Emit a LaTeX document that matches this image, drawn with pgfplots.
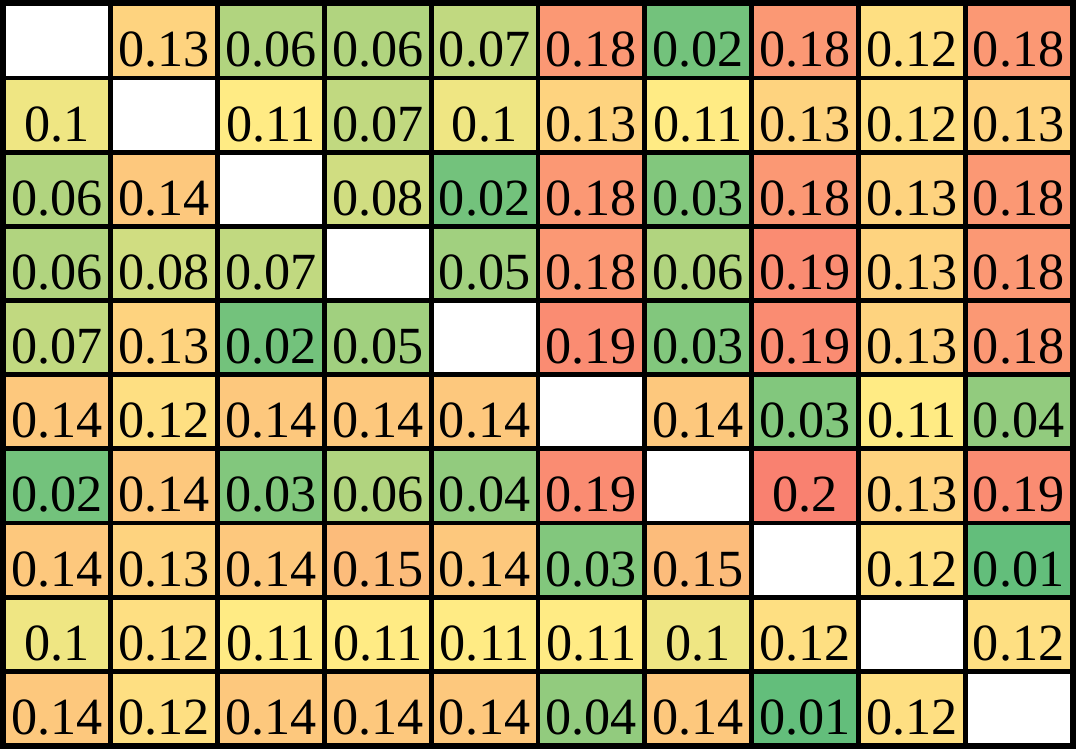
\documentclass[border=0pt]{standalone}
\usepackage{pgfplots}
\pgfplotsset{compat=1.18}
\usepackage{fontspec}
\setmainfont{Liberation Serif}
\newfontfamily\tnr{Liberation Serif}
\begin{document}
\begin{tikzpicture}
\begin{axis}[
  scale only axis, width=538pt, height=373.5pt,
  xmin=-0.5, xmax=9.5, ymin=-0.5, ymax=9.5,
  y dir=reverse,
  axis lines=box, ticks=none,
  axis line style={line width=4pt, black},
  colormap={heat}{rgb255(100)=(99,190,123) rgb255(1100)=(255,235,132) rgb255(2200)=(248,105,107) rgb255(2250)=(255,255,255) rgb255(3000)=(255,255,255)},
  point meta min=0.01, point meta max=0.30,
]
\addplot[matrix plot*, mesh/cols=10, point meta=explicit, draw=black, line width=2.4pt,
  visualization depends on={value \thisrow{lbl} \as \lbl},
  nodes near coords={\lbl},
  every node near coord/.append style={anchor=center, yshift=-4.5pt, font=\tnr\fontsize{26.3}{30}\selectfont, text=black}]
table[meta=v] {
x y v lbl
0 0 0.30 {}
1 0 0.13 0.13
2 0 0.06 0.06
3 0 0.06 0.06
4 0 0.07 0.07
5 0 0.18 0.18
6 0 0.02 0.02
7 0 0.18 0.18
8 0 0.12 0.12
9 0 0.18 0.18
0 1 0.10 0.1
1 1 0.30 {}
2 1 0.11 0.11
3 1 0.07 0.07
4 1 0.10 0.1
5 1 0.13 0.13
6 1 0.11 0.11
7 1 0.13 0.13
8 1 0.12 0.12
9 1 0.13 0.13
0 2 0.06 0.06
1 2 0.14 0.14
2 2 0.30 {}
3 2 0.08 0.08
4 2 0.02 0.02
5 2 0.18 0.18
6 2 0.03 0.03
7 2 0.18 0.18
8 2 0.13 0.13
9 2 0.18 0.18
0 3 0.06 0.06
1 3 0.08 0.08
2 3 0.07 0.07
3 3 0.30 {}
4 3 0.05 0.05
5 3 0.18 0.18
6 3 0.06 0.06
7 3 0.19 0.19
8 3 0.13 0.13
9 3 0.18 0.18
0 4 0.07 0.07
1 4 0.13 0.13
2 4 0.02 0.02
3 4 0.05 0.05
4 4 0.30 {}
5 4 0.19 0.19
6 4 0.03 0.03
7 4 0.19 0.19
8 4 0.13 0.13
9 4 0.18 0.18
0 5 0.14 0.14
1 5 0.12 0.12
2 5 0.14 0.14
3 5 0.14 0.14
4 5 0.14 0.14
5 5 0.30 {}
6 5 0.14 0.14
7 5 0.03 0.03
8 5 0.11 0.11
9 5 0.04 0.04
0 6 0.02 0.02
1 6 0.14 0.14
2 6 0.03 0.03
3 6 0.06 0.06
4 6 0.04 0.04
5 6 0.19 0.19
6 6 0.30 {}
7 6 0.20 0.2
8 6 0.13 0.13
9 6 0.19 0.19
0 7 0.14 0.14
1 7 0.13 0.13
2 7 0.14 0.14
3 7 0.15 0.15
4 7 0.14 0.14
5 7 0.03 0.03
6 7 0.15 0.15
7 7 0.30 {}
8 7 0.12 0.12
9 7 0.01 0.01
0 8 0.10 0.1
1 8 0.12 0.12
2 8 0.11 0.11
3 8 0.11 0.11
4 8 0.11 0.11
5 8 0.11 0.11
6 8 0.10 0.1
7 8 0.12 0.12
8 8 0.30 {}
9 8 0.12 0.12
0 9 0.14 0.14
1 9 0.12 0.12
2 9 0.14 0.14
3 9 0.14 0.14
4 9 0.14 0.14
5 9 0.04 0.04
6 9 0.14 0.14
7 9 0.01 0.01
8 9 0.12 0.12
9 9 0.30 {}
};
\end{axis}
\end{tikzpicture}
\end{document}
